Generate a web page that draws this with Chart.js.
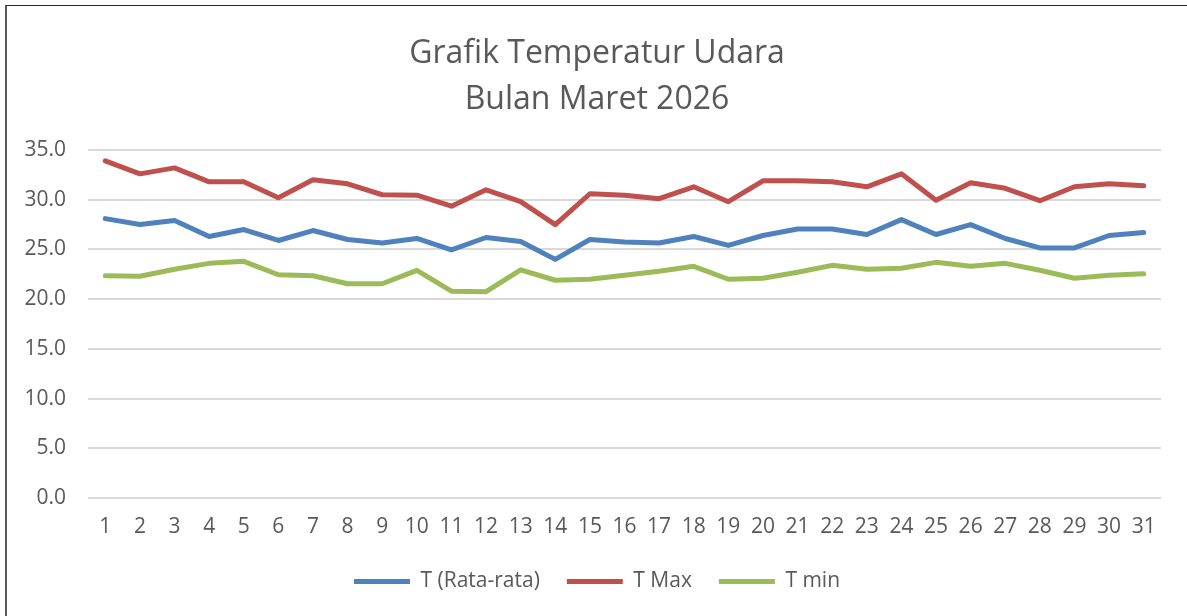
<!DOCTYPE html>
<html>
<head>
<meta charset="utf-8">
<script src="https://cdn.jsdelivr.net/npm/chart.js@4.4.1/dist/chart.umd.min.js"></script>
<style>
  html, body { margin: 0; padding: 0; background: #ffffff; }
  body { width: 1187px; height: 616px; position: relative; overflow: hidden; }
  #frame {
    position: absolute; left: 5px; top: 5px; width: 1180px; height: 611px;
    border-left: 2px solid #595959; border-top: 1px solid #262626;
  }
  #c { display: block; }
</style>
</head>
<body>
<div id="frame"><canvas id="c" width="1180" height="610"></canvas></div>
<script>
const days = ['1','2','3','4','5','6','7','8','9','10','11','12','13','14','15','16','17','18','19','20','21','22','23','24','25','26','27','28','29','30','31'];
const tAvg = [28.1,27.5,27.9,26.3,27.0,25.9,26.9,26.0,25.65,26.1,24.95,26.2,25.8,24.0,26.0,25.75,25.65,26.3,25.4,26.4,27.05,27.05,26.5,28.0,26.5,27.5,26.1,25.15,25.15,26.4,26.7];
const tMax = [33.9,32.6,33.2,31.8,31.8,30.2,32.0,31.6,30.5,30.45,29.35,31.0,29.8,27.5,30.6,30.45,30.1,31.3,29.8,31.9,31.9,31.8,31.3,32.6,29.95,31.7,31.15,29.9,31.3,31.6,31.4];
const tMin = [22.35,22.3,23.0,23.6,23.8,22.45,22.35,21.55,21.55,22.9,20.8,20.75,22.95,21.9,22.0,22.4,22.8,23.3,22.0,22.1,22.7,23.4,23.0,23.1,23.7,23.3,23.6,22.9,22.1,22.4,22.55];
const seriesNames = ['T (Rata-rata)', 'T Max', 'T min'];
const titleLines = ['Grafik Temperatur Udara', 'Bulan Maret 2026'];

const FONT = "'Open Sans', 'Noto Sans', sans-serif";
const TXT = '#595959';

function ds(label, data, color) {
  return {
    label, data,
    borderColor: color, backgroundColor: color,
    borderWidth: 5, pointRadius: 0, pointHoverRadius: 0,
    tension: 0, borderJoinStyle: 'round', borderCapStyle: 'round',
    fill: false
  };
}

new Chart(document.getElementById('c'), {
  type: 'line',
  data: {
    labels: days,
    datasets: [
      ds(seriesNames[0], tAvg, '#4F81BD'),
      ds(seriesNames[1], tMax, '#C0504D'),
      ds(seriesNames[2], tMin, '#9BBB59')
    ]
  },
  options: {
    responsive: false,
    animation: false,
    layout: { padding: { left: 0, right: 0, top: 0, bottom: 14 } },
    plugins: {
      tooltip: { enabled: false },
      title: {
        display: true,
        text: titleLines,
        color: TXT,
        font: { family: FONT, size: 32, weight: 'normal', lineHeight: 46/32 },
        padding: { top: 25, bottom: 27 }
      },
      legend: {
        display: true,
        position: 'bottom',
        labels: {
          usePointStyle: true,
          pointStyle: 'line',
          pointStyleWidth: 56,
          color: TXT,
          font: { family: FONT, size: 21 },
          padding: 27
        }
      }
    },
    scales: {
      x: {
        offset: true,
        grid: { display: false, drawTicks: false },
        border: { display: false },
        ticks: { color: TXT, font: { family: FONT, size: 21 }, padding: 16, maxRotation: 0, autoSkip: false },
        afterFit(scale) { scale.height = 46; }
      },
      y: {
        min: 0, max: 35,
        grid: { color: '#d9d9d9', lineWidth: 2, drawTicks: false },
        border: { display: false },
        ticks: {
          stepSize: 5, color: TXT, font: { family: FONT, size: 21 }, padding: 22,
          callback: v => Number(v).toFixed(1)
        },
        afterFit(scale) { scale.width = 81; }
      },
      yRight: {
        position: 'right',
        min: 0, max: 35,
        grid: { display: false, drawTicks: false },
        border: { display: false },
        ticks: { display: false },
        afterFit(scale) { scale.width = 26; }
      }
    }
  }
});
</script>
</body>
</html>
